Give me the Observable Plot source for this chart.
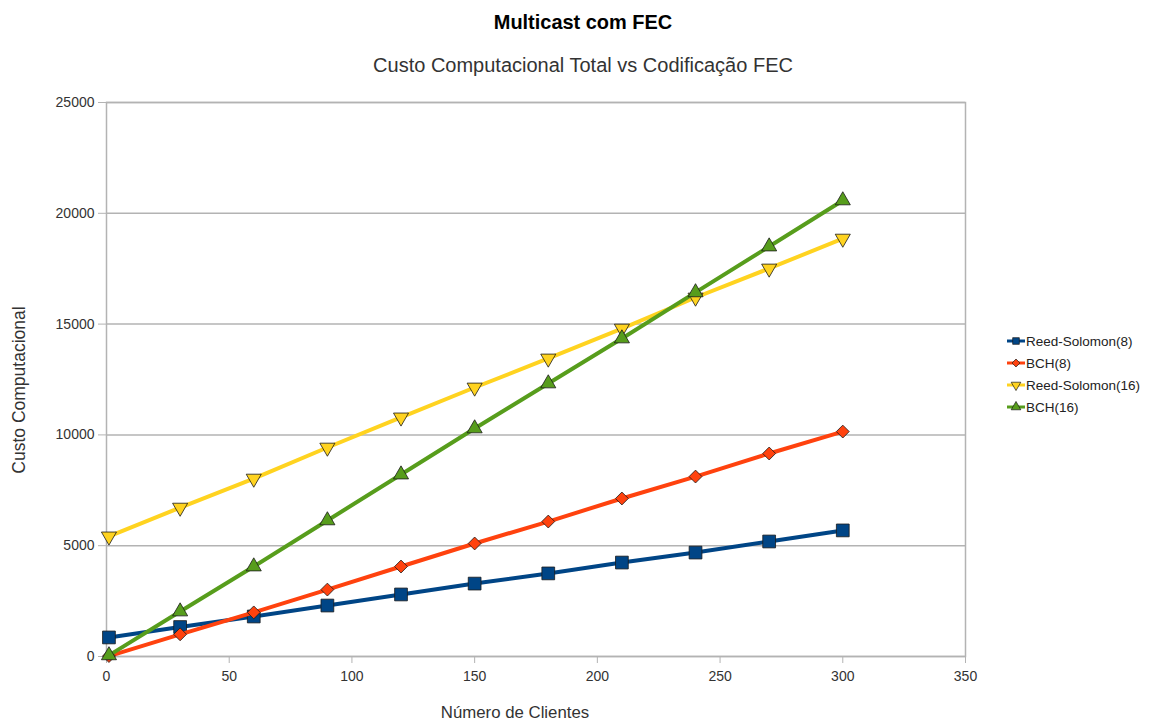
<!DOCTYPE html>
<html>
<head>
<meta charset="utf-8">
<script src="https://cdn.jsdelivr.net/npm/d3@7"></script>
<script src="https://cdn.jsdelivr.net/npm/@observablehq/plot@0.6"></script>
<style>
  html, body { margin: 0; padding: 0; background: #fff; }
  #wrap { position: relative; width: 1155px; height: 726px; font-family: "Liberation Sans", Arial, sans-serif; overflow: hidden; }
  #chart { position: absolute; left: 0; top: 0; }
  .t { position: absolute; white-space: nowrap; }
  #title { left: 583px; top: 10px; transform: translateX(-50%) scaleX(0.95); font-size: 21px; font-weight: bold; color: #000; }
  #subtitle { left: 583px; top: 54px; transform: translateX(-50%); font-size: 20px; color: #333; }
  #ylabel { left: 19px; top: 390px; transform: translate(-50%, -50%) rotate(-90deg); font-size: 17.5px; color: #333; }
  #xlabel { left: 515px; top: 703px; transform: translateX(-50%); font-size: 16.8px; color: #333; }
  #legend { position: absolute; left: 1007px; top: 330px; font-size: 13.5px; color: #222; }
  .row { display: flex; align-items: center; height: 22px; }
  .row svg { margin-right: 1px; }
</style>
</head>
<body>
<div id="wrap">
  <div id="chart"></div>
  <div class="t" id="title">Multicast com FEC</div>
  <div class="t" id="subtitle">Custo Computacional Total vs Codificação FEC</div>
  <div class="t" id="ylabel">Custo Computacional</div>
  <div class="t" id="xlabel">Número de Clientes</div>
  <div id="legend"></div>
</div>
<script>
const clientes = [1, 30, 60, 90, 120, 150, 180, 210, 240, 270, 300];
const seriesNames = ["Reed-Solomon(8)", "BCH(8)", "Reed-Solomon(16)", "BCH(16)"];
const rs8   = [860, 1330, 1805, 2300, 2800, 3290, 3750, 4240, 4690, 5190, 5690];
const bch8  = [20, 1000, 1990, 3020, 4060, 5100, 6090, 7130, 8120, 9160, 10150];
const rs16  = [5420, 6720, 8030, 9430, 10790, 12140, 13450, 14800, 16200, 17510, 18860];
const bch16 = [50, 2030, 4060, 6140, 8210, 10290, 12320, 14350, 16430, 18500, 20580];
const xTicks = [0, 50, 100, 150, 200, 250, 300, 350];
const yTicks = [0, 5000, 10000, 15000, 20000, 25000];
const colors = ["#004586", "#ff420e", "#ffd320", "#579d1c"];
const symbols = ["square", "diamond2", "triangle", "triangle"];
const rotations = [0, 0, 180, 0];
const radii = [7.2, 5.8, 5.6, 5.6];

const valuesBySeries = [rs8, bch8, rs16, bch16];
const rows = seriesNames.flatMap((s, i) =>
  clientes.map((c, j) => ({series: s, x: c, y: valuesBySeries[i][j]})));

const seriesMarks = seriesNames.flatMap((s, i) => {
  const d = rows.filter(r => r.series === s);
  return [
    Plot.line(d, {x: "x", y: "y", stroke: colors[i], strokeWidth: 4}),
    Plot.dot(d, {x: "x", y: "y", fill: colors[i], stroke: "#1a1a1a", strokeWidth: 0.8,
                 symbol: symbols[i], r: radii[i], rotate: rotations[i]})
  ];
});

const chart = Plot.plot({
  width: 1155,
  height: 726,
  marginLeft: 106,
  marginRight: 190,
  marginTop: 102,
  marginBottom: 70,
  style: {fontFamily: "'Liberation Sans', Arial, sans-serif", fontSize: "14px", background: "#fff"},
  x: {domain: [0, 350]},
  y: {domain: [0, 25000]},
  marks: [
    Plot.ruleY(yTicks, {stroke: "#b3b3b3", strokeWidth: 1.5}),
    Plot.frame({stroke: "#b3b3b3", strokeWidth: 1.5}),
    Plot.axisY(yTicks, {tickSize: 8, tickPadding: 4, tickFormat: d3.format("d"), label: null,
                        stroke: "#b3b3b3", fill: "#333", fontSize: 14}),
    Plot.axisX(xTicks, {tickSize: 7, tickPadding: 8, tickFormat: d3.format("d"), label: null,
                        stroke: "#b3b3b3", fill: "#333", fontSize: 14}),
    ...seriesMarks
  ]
});
document.getElementById("chart").appendChild(chart);

// legend
const legend = document.getElementById("legend");
const symPaths = {
  square: d3.symbol(d3.symbolSquare, 44)(),
  diamond2: d3.symbol(d3.symbolDiamond2, 40)(),
  triangle: d3.symbol(d3.symbolTriangle, 40)()
};
seriesNames.forEach((s, i) => {
  const row = document.createElement("div");
  row.className = "row";
  const svg = d3.create("svg").attr("width", 18).attr("height", 14);
  svg.append("line").attr("x1", 0).attr("x2", 18).attr("y1", 7).attr("y2", 7)
    .attr("stroke", colors[i]).attr("stroke-width", 3);
  svg.append("path").attr("d", symPaths[symbols[i]])
    .attr("transform", `translate(9,7) rotate(${rotations[i]})`)
    .attr("fill", colors[i]).attr("stroke", "#1a1a1a").attr("stroke-width", 0.7);
  row.appendChild(svg.node());
  const span = document.createElement("span");
  span.textContent = s;
  row.appendChild(span);
  legend.appendChild(row);
});
</script>
</body>
</html>
